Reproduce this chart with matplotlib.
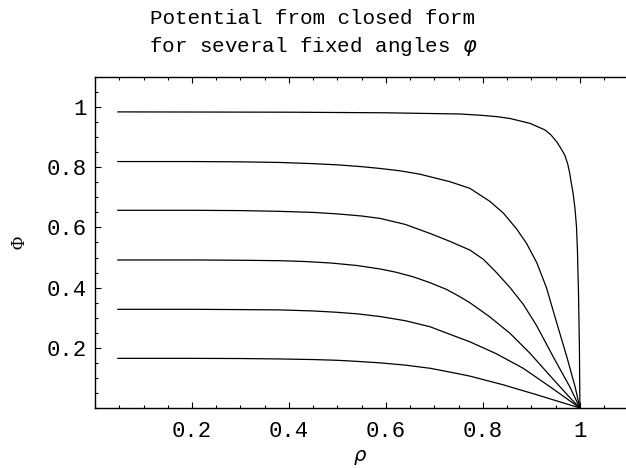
import matplotlib
matplotlib.use('Agg')
import matplotlib.pyplot as plt
from matplotlib.ticker import MultipleLocator, FixedLocator

# values, one (rho, Phi) list per fixed angle
rho1 = [0.047, 0.4, 0.6, 0.753, 0.794, 0.83, 0.856, 0.897, 0.928, 0.94, 0.952, 0.96, 0.969, 0.975, 0.979, 0.982,
        0.986, 0.99, 0.993, 0.995, 0.996, 0.997, 0.999, 1.0]
phi1 = [0.984, 0.983, 0.981, 0.977, 0.973, 0.968, 0.962, 0.946, 0.924, 0.908, 0.885, 0.865, 0.84, 0.81, 0.78, 0.75,
        0.713, 0.66, 0.602, 0.52, 0.45, 0.392, 0.2, 0.0]

rho2 = [0.047, 0.2, 0.3, 0.381, 0.45, 0.5, 0.55, 0.588, 0.63, 0.670, 0.732, 0.773, 0.814, 0.842, 0.869, 0.890, 0.911,
        0.931, 0.952, 0.973, 0.990, 1.0]
phi2 = [0.819, 0.819, 0.818, 0.816, 0.812, 0.808, 0.802, 0.796, 0.788, 0.777, 0.752, 0.730, 0.687, 0.648, 0.596, 0.547,
        0.483, 0.400, 0.284, 0.170, 0.071, 0.0]

rho3 = [0.047, 0.2, 0.3, 0.381, 0.45, 0.5, 0.55, 0.588, 0.64, 0.691, 0.73, 0.773, 0.801, 0.828, 0.856, 0.883, 0.911,
        0.945, 0.979, 1.0]
phi3 = [0.657, 0.657, 0.656, 0.6535, 0.650, 0.645, 0.638, 0.630, 0.610, 0.580, 0.555, 0.525, 0.494, 0.450, 0.400,
        0.345, 0.273, 0.170, 0.071, 0.0]

rho4 = [0.047, 0.2, 0.3, 0.381, 0.43, 0.485, 0.54, 0.588, 0.62, 0.656, 0.69, 0.725, 0.75, 0.773, 0.814, 0.856, 0.897,
        0.938, 0.979, 1.0]
phi4 = [0.492, 0.492, 0.491, 0.4895, 0.487, 0.482, 0.4736, 0.462, 0.4515, 0.436, 0.417, 0.394, 0.372, 0.350, 0.303,
        0.248, 0.182, 0.108, 0.035, 0.0]

rho5 = [0.047, 0.2, 0.3, 0.381, 0.45, 0.5, 0.54, 0.588, 0.64, 0.691, 0.73, 0.773, 0.828, 0.883, 0.938, 1.0]
phi5 = [0.328, 0.328, 0.327, 0.326, 0.3225, 0.318, 0.313, 0.304, 0.290, 0.270, 0.246, 0.220, 0.180, 0.132, 0.071, 0.0]

rho6 = [0.047, 0.2, 0.3, 0.381, 0.45, 0.5, 0.54, 0.588, 0.64, 0.691, 0.73, 0.773, 0.842, 0.911, 1.0]
phi6 = [0.165, 0.165, 0.1644, 0.163, 0.161, 0.1585, 0.155, 0.150, 0.1425, 0.132, 0.120, 0.106, 0.077, 0.044, 0.0]

curves = [(rho1, phi1), (rho2, phi2), (rho3, phi3), (rho4, phi4), (rho5, phi5), (rho6, phi6)]

mono = 'Liberation Mono'

fig = plt.figure(figsize=(6.26, 4.68), dpi=100)
ax = fig.add_axes([0.1518, 0.1282, 0.8466, 0.7073])

for r, p in curves:
    ax.plot(r, p, color='black', lw=0.9)

ax.set_xlim(0, 1.093)
ax.set_ylim(0, 1.1)

ax.spines['right'].set_visible(False)
for s in ['left', 'bottom', 'top']:
    ax.spines[s].set_linewidth(1.0)

ax.xaxis.set_major_locator(FixedLocator([0.2, 0.4, 0.6, 0.8, 1.0]))
ax.xaxis.set_minor_locator(MultipleLocator(0.05))
ax.yaxis.set_major_locator(FixedLocator([0.2, 0.4, 0.6, 0.8, 1.0]))
ax.yaxis.set_minor_locator(MultipleLocator(0.05))
ax.set_xticklabels(['0.2', '0.4', '0.6', '0.8', '1'], family=mono, fontsize=16)
ax.set_yticklabels(['0.2', '0.4', '0.6', '0.8', '1'], family=mono, fontsize=16)

ax.tick_params(which='major', direction='in', length=4.5, width=0.8, top=True, right=False, pad=9)
ax.tick_params(which='minor', direction='in', length=2.5, width=0.8, top=True, right=False)
ax.tick_params(axis='y', which='major', pad=6)

ax.set_xlabel(r'$\rho$', fontsize=14, labelpad=5)
ax.set_ylabel('Φ', family='Liberation Serif', fontsize=13, labelpad=13)

fig.text(0.5, 1 - 18 / 468, 'Potential from closed form', family=mono, fontsize=15,
         ha='center', va='center')
fig.text(0.5, 1 - 47 / 468, r'for several fixed angles $\varphi$', family=mono, fontsize=15,
         ha='center', va='center')

fig.savefig('out.png', dpi=100)
